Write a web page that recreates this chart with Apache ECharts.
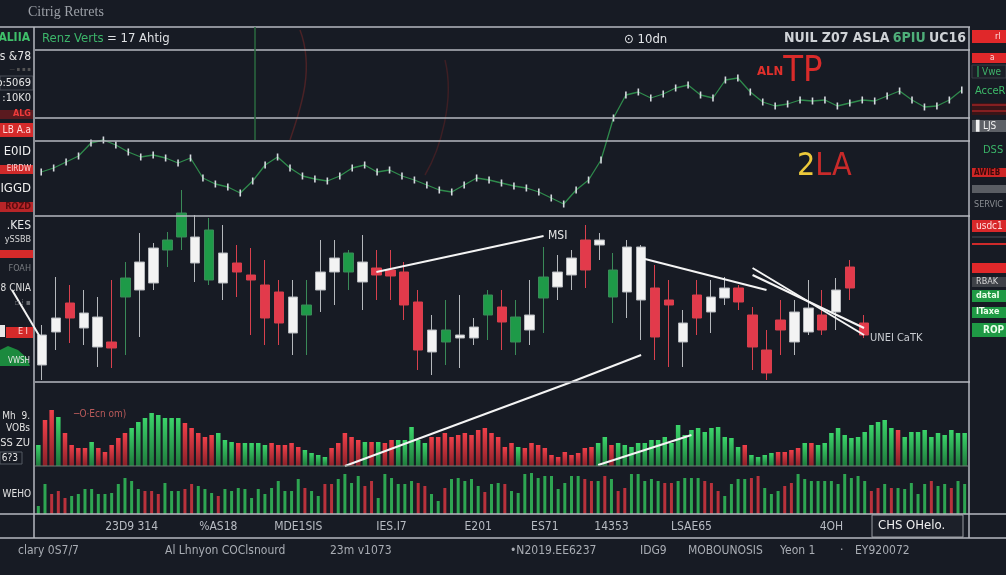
<!DOCTYPE html>
<html><head><meta charset="utf-8">
<script src="https://cdn.jsdelivr.net/npm/echarts@6/dist/echarts.min.js"></script>
<style>html,body{margin:0;padding:0;background:#171b24;}#c{width:1006px;height:575px;}</style>
</head><body><div id="c"></div><script>
// ---------- DATA ----------
const trendLine = [44,48,54,60,73,76,71,64,59,61,58,53,58,38,32,29,23,35,51,59,48,40,37,35,40,48,51,44,46,40,36,31,26,24,31,38,36,33,30,28,24,18,12,26,36,56,98,121,124,118,122,128,131,121,118,136,138,124,114,110,112,116,115,116,110,113,116,115,120,125,116,109,110,116,126];

// [open, close, low, high]
const candleOHLC = [
 [17,47,2,57],[50,64,32,105],[79,64,39,97],[54,69,37,92],[35,65,15,85],[40,34,14,102],[85,104,27,120],[92,120,45,149],[99,134,92,139],[132,142,115,150],
 [145,169,132,192],[119,145,100,167],[102,152,97,164],[99,129,82,157],[119,110,85,137],[107,102,47,134],[97,64,37,122],[90,59,37,102],[49,85,27,102],[67,77,27,102],
 [92,110,70,142],[110,124,77,142],[110,129,92,132],[100,120,72,147],[114,107,82,132],[112,106,82,132],[110,77,62,120],[80,32,12,92],[30,52,7,67],[40,52,17,82],
 [44,47,14,87],[44,55,37,64],[67,87,42,92],[75,60,32,92],[40,65,27,82],[52,67,37,102],[84,105,49,135],[95,110,82,127],[107,124,92,132],[142,112,94,157],
 [137,142,122,149],[85,112,59,129],[90,135,64,142],[82,135,42,137],[94,45,22,117],[82,77,15,102],[40,59,15,72],[87,64,47,102],[70,85,49,102],[84,94,77,105],
 [94,80,72,97],[67,35,12,75],[32,9,2,52],[62,52,27,82],[40,70,27,82],[50,74,47,102],[67,52,47,92],[70,92,52,104],[115,94,82,122],[59,47,44,67]
];
const greenCandleIdx = [6,9,10,12,19,22,29,32,34,36,41];

const volumeA = [21,46,56,49,33,21,18,18,24,18,14,21,28,33,38,44,48,53,51,48,48,48,43,38,33,29,31,33,26,24,23,23,23,23,21,23,21,21,23,19,16,13,11,9,18,23,33,29,26,24,24,24,23,26,26,26,39,26,23,29,29,33,29,31,33,31,36,38,33,
 29,19,23,19,18,23,21,18,11,9,14,11,13,18,19,23,29,21,23,21,19,23,23,26,26,29,23,41,31,36,38,34,38,39,29,28,19,21,11,9,11,13,14,14,16,18,23,23,21,23,33,38,31,28,29,34,41,44,46,38,36,29,34,34,36,29,33,31,36,33,33];
const volumeADir = "grrgrrrrgr"+"rrrrgggggg"+"ggrrrrrggg"+"rggggrrrrr"+"ggggrrrrrg"+"rgrrgggggr"+"rrrrrrrrr"+"rrrgrrrrrr"+"rrrrrggrgg"+"gggggggggg"+"gggggggrgg"+"ggrrrrgrgg"+"gggggggggg"+"rggggggggg"+"g";

const volumeB = [8,30,20,23,16,18,20,25,25,20,20,21,30,36,33,25,23,23,20,31,23,23,25,30,28,25,21,18,25,23,26,25,16,25,20,26,33,23,23,35,26,23,18,30,30,35,40,31,38,28,33,16,40,36,30,30,33,31,28,20,13,26,35,36,33,35,28,22,30,
 31,30,23,21,40,41,36,38,38,25,31,38,38,35,33,33,38,35,23,26,40,40,33,35,33,31,31,33,36,36,36,33,31,23,18,30,35,35,36,38,26,20,23,28,31,40,35,33,33,33,33,30,40,36,38,33,23,26,30,26,26,25,31,20,30,33,28,30,26,33,30];
const volumeBDir = "ggrrrggggg"+"ggggggrrrg"+"ggrrgggrgg"+"gggggggggg"+"rggrrggggr"+"rggggggrrg"+"grgggg"+"grg"+"grgggggggg"+"gggrrgrgrr"+"gggggrrggg"+"grrrggggrr"+"gggrrggggg"+"ggggggrrgr"+"gggggr"+"ggrgg";

const tickIdx  = [14,27,39,53,66,76,86,98,119];
const tickText = ['23D9 314','%AS18','MDE1SIS','IES.I7','E201','ES71','14353','LSAE65','4OH'];

const footerText = ['clary 0S7/7','Al Lhnyon COClsnourd','23m v1073','•N2019.EE6237','IDG9','MOBOUNOSIS','Yeon 1','·','EY920072'];

// ---------- BUILD ----------
const FONT = '"DejaVu Sans Condensed","DejaVu Sans",sans-serif';
const idx = n => Array.from({length:n},(_,i)=>i);

const mainCandles = candleOHLC.map((d,i)=>greenCandleIdx.includes(i)?null:[i].concat(d)).filter(Boolean);
const greenCandles = candleOHLC.map((d,i)=>greenCandleIdx.includes(i)?[i].concat(d):null).filter(Boolean);

function grad(c1,c2){return {type:'linear',x:0,y:0,x2:0,y2:1,colorStops:[{offset:0,color:c1},{offset:1,color:c2}]};}
const volAData = volumeA.map((v,i)=>({value:v,itemStyle:{color: volumeADir[i]==='g'?grad('#3bd46a','#1f7a3c'):grad('#f0404a','#8a2028')}}));
const volBData = volumeB.map((v,i)=>({value:v,itemStyle:{color: volumeBDir[i]==='g'?'#2ea552':'#b8323c'}}));

const G = [];
function hline(x1,x2,y,c,w){G.push({type:'line',z:50,silent:true,shape:{x1:x1,y1:y,x2:x2,y2:y},style:{stroke:c||'#b6b9bf',lineWidth:w||1.5}});}
function vline(x,y1,y2,c,w){G.push({type:'line',z:50,silent:true,shape:{x1:x,y1:y1,x2:x,y2:y2},style:{stroke:c||'#b6b9bf',lineWidth:w||1.5}});}
function rect(x,y,w,h,fill,stroke){G.push({type:'rect',z:40,silent:true,shape:{x:x,y:y,width:w,height:h},style:{fill:fill||'none',stroke:stroke||null,lineWidth:1}});}
function txt(x,y,t,c,size,align,weight,fam){G.push({type:'text',z:60,silent:true,x:x,y:y,style:{text:t,fill:c,font:(weight||'normal')+' '+size+'px '+(fam||FONT),textAlign:align||'left',textVerticalAlign:'middle'}});}

// frame
hline(0,970,27); hline(35,970,50); hline(35,970,118); hline(35,970,141); hline(35,970,216); hline(35,970,382);
hline(35,968,466,'#6f7f76',1.2); hline(0,1006,514); hline(0,1006,538);
vline(34,27,538); vline(969,27,538);
vline(255,27,140,'#2b6a3f',1.5);
// faint background curves
G.push({type:'bezierCurve',z:5,silent:true,shape:{x1:300,y1:30,x2:290,y2:140,cpx1:315,cpy1:70,cpx2:300,cpy2:110},style:{stroke:'#4a2226',lineWidth:1.5,fill:null}});
G.push({type:'bezierCurve',z:5,silent:true,shape:{x1:445,y1:60,x2:425,y2:175,cpx1:455,cpy1:100,cpx2:440,cpy2:150},style:{stroke:'#3d1f24',lineWidth:1.5,fill:null}});
// left annotation line
G.push({type:'line',z:55,silent:true,shape:{x1:12,y1:290,x2:43,y2:342},style:{stroke:'#f2f2f2',lineWidth:2}});

// title & header
txt(28,12,'Citrig Retrets','#9da1a8',14,'left','normal','"Liberation Serif",serif');
G.push({type:'text',z:60,x:42,y:39,style:{text:'{g|Renz Verts} {w|= 17 Ahtig}',rich:{g:{fill:'#3cb56a',font:'13px '+FONT},w:{fill:'#dfe1e4',font:'13px '+FONT}},textVerticalAlign:'middle'}});
txt(624,40,'⊙ 10dn','#e4e6e9',13);
G.push({type:'text',z:60,x:966,y:38,style:{text:'{w|NUIL Z07 ASLA} {g|6PIU} {w|UC16}',rich:{w:{fill:'#cfd2d6',font:'bold 14px '+FONT},g:{fill:'#4fae7a',font:'bold 14px '+FONT}},textAlign:'right',textVerticalAlign:'middle'}});
G.push({type:'text',z:60,x:757,y:72,style:{text:'{s|ALN}{b|TP}',rich:{s:{fill:'#e0302c',font:'bold 13px '+FONT},b:{fill:'#d92b2a',font:'36px '+FONT}},textVerticalAlign:'middle'}});
G.push({type:'text',z:60,x:797,y:167,style:{text:'{y|2}{r|LA}',rich:{y:{fill:'#ecc93b',font:'32px '+FONT},r:{fill:'#c82a2a',font:'32px '+FONT}},textVerticalAlign:'middle'}});
txt(548,236,'MSI','#e8e8e8',12);
txt(870,338,'UNEI CaTK','#c9ccd1',11);
txt(74,414,'─O·Ecn om)','#b85a5a',10);

// left side panel
txt(30,38,'ALIIA','#3fbf6a',12,'right','bold');
txt(31,57,'s &78','#e5e5e5',12,'right');
txt(31,69,'— ▪ ▪ ▪','#555',6,'right');
rect(0,76,33,14,'#1b1f28','#4a4e56'); txt(31,83,'o:5069','#e6e6e6',11,'right');
txt(31,98,':10K0','#e6e6e6',11,'right');
rect(0,110,33,9,'#5a1a1f'); txt(31,114,'ALG','#ef3b3b',9,'right','bold');
rect(0,123,33,14,'#d52a2a'); txt(31,130,'LB A.a','#ffdcdc',10,'right');
txt(31,152,'E0ID','#f0f0f0',13,'right');
rect(0,165,33,9,'#cf2a2a'); txt(31,169,'EIRDW','#ffd0d0',8,'right');
txt(31,189,'IGGD','#f0f0f0',13,'right');
rect(0,202,33,10,'#b72528'); txt(31,207,'ROZD','#5a0d10',9,'right','bold');
txt(31,226,'.KES','#e8e8e8',12,'right');
txt(31,240,'ySSBB','#d8d8d8',9,'right');
rect(0,250,33,8,'#d62a2a');
txt(31,269,'FOAH','#7a7d82',9,'right');
txt(31,288,'8 CNIA','#e0e0e0',10,'right');
txt(31,303,'▫ ⁞ ▪','#6a6d72',8,'right');
rect(0,325,5,12,'#e8e8e8'); rect(6,327,27,11,'#d52a2a'); txt(28,332,'E I','#ffdada',9,'right');
G.push({type:'polygon',z:40,silent:true,shape:{points:[[0,366],[0,350],[8,346],[18,350],[27,358],[30,366]]},style:{fill:'#1c8a3e'}});
txt(30,361,'VWSH','#e8e8e8',8,'right');
txt(30,416,'Mh  9.','#e2e2e2',10,'right');
txt(30,428,'VOBs','#e2e2e2',10,'right');
txt(30,443,'SS ZU','#e2e2e2',11,'right');
rect(0,452,22,12,null,'#555a62'); txt(18,458,'6?3','#e2e2e2',10,'right');
txt(31,494,'WEHO','#e2e2e2',10,'right');

// right side panel
rect(972,30,34,13,'#e0282a'); txt(995,37,'rl','#ffe0e0',9,'left');
rect(972,53,34,10,'#e0282a'); txt(990,58,'a','#ffe0e0',8,'left');
rect(972,65,34,13,'#1b1f27','#3a3e46'); vline(978,66,77,'#33a55e',1.2); txt(982,72,'Vwe','#3fb06a',10,'left');
txt(975,91,'AcceR','#3dbb6a',11,'left');
rect(972,103,34,12,'#3a1518'); hline(972,1006,105,'#d02a2a',1.2); hline(972,1006,111,'#d02a2a',1.2);
rect(972,120,34,12,'#5d6066'); txt(976,126,'▌LJS','#f2f2f2',10,'left');
txt(983,150,'DSS','#3ab468',11,'left');
rect(972,168,34,9,'#cf2626'); txt(974,173,'AWIEB','#3a0a0a',8,'left','bold');
rect(972,185,34,8,'#5a5d63');
txt(974,205,'SERVIC','#8a8d92',9,'left');
rect(972,220,34,12,'#d8282a'); txt(976,226,'usdc1','#ffe0e0',10,'left');
hline(972,1006,237,'#3a3e46',1.5); hline(972,1006,244,'#cf2a2a',2);
rect(972,263,34,10,'#e0282a');
rect(972,277,34,10,'#3e4147'); txt(976,282,'RBAK','#d8d8d8',9,'left');
rect(972,290,34,12,'#1f9a45'); txt(976,296,'dataI','#eaffea',9,'left','bold');
rect(972,307,34,11,'#1f9a45'); txt(976,312,'ITaxe','#eaffea',9,'left','bold');
rect(972,323,34,14,'#1f9a45'); txt(983,330,'ROP','#eaffea',10,'left','bold');

// bottom box & footer
rect(872,515,91,22,'#1c2029','#9a9da3'); txt(878,526,'CHS OHelo.','#f0f0f0',13,'left');
const footX = [18,165,330,510,640,688,780,840,855];
footerText.forEach((t,i)=>txt(footX[i],551,t,'#a9adb4',12,'left'));

const ML = {symbol:['none','none'],silent:true,label:{show:false},lineStyle:{color:'#f4f4f4',width:2,type:'solid'},emphasis:{disabled:true}};

const option = {
  backgroundColor:'#171b24',
  animation:false,
  grid:[
    {left:35,top:50,width:933,height:166},
    {left:35,top:216,width:836,height:166},
    {left:35,top:382,width:933,height:84},
    {left:35,top:466,width:933,height:48}
  ],
  xAxis:[
    {type:'category',gridIndex:0,data:idx(trendLine.length),show:false},
    {type:'category',gridIndex:1,data:idx(candleOHLC.length),show:false},
    {type:'category',gridIndex:2,data:idx(volumeA.length),show:false},
    {type:'category',gridIndex:3,data:idx(volumeB.length),axisLine:{show:false},axisTick:{show:false},
     axisLabel:{interval:0,margin:7,color:'#b8bcc3',fontSize:12,fontFamily:FONT,
       formatter:(v,i)=>{const k=tickIdx.indexOf(i);return k<0?'':tickText[k];}}}
  ],
  yAxis:[
    {type:'value',gridIndex:0,min:0,max:166,show:false},
    {type:'value',gridIndex:1,min:0,max:166,show:false},
    {type:'value',gridIndex:2,min:0,max:84,show:false},
    {type:'value',gridIndex:3,min:0,max:48,show:false}
  ],
  series:[
    {type:'line',xAxisIndex:0,yAxisIndex:0,data:trendLine,lineStyle:{color:'#2f8a4c',width:1.3},
     symbol:'rect',symbolSize:[1.6,7],showSymbol:true,itemStyle:{color:'#d6dbe0'},
     markLine:Object.assign({},ML,{data:[[{coord:[59.8,23]},{coord:[74.5,54]}]]})},
    {type:'candlestick',xAxisIndex:1,yAxisIndex:1,data:mainCandles,encode:{x:0,y:[1,2,3,4]},barWidth:10,clip:false,
     itemStyle:{color:'#f3f3f3',color0:'#e23a4b',borderColor:'#b5b8bc',borderColor0:'#d8404d',borderWidth:1},
     markLine:Object.assign({},ML,{data:[
       [{coord:[23.5,110]},{coord:[36.1,146]}],
       [{coord:[43.3,124]},{coord:[51.5,92]}],
       [{coord:[51.3,114]},{coord:[58.9,47]}],
       [{coord:[50.5,107]},{coord:[58.7,54]}],
       [{coord:[38.1,0]},{coord:[43.4,27]}]
     ]})},
    {type:'candlestick',xAxisIndex:1,yAxisIndex:1,data:greenCandles,encode:{x:0,y:[1,2,3,4]},barWidth:10,clip:false,
     itemStyle:{color:'#1e9a48',color0:'#1e9a48',borderColor:'#3a8a58',borderColor0:'#3a8a58',borderWidth:1}},
    {type:'bar',xAxisIndex:2,yAxisIndex:2,data:volAData,barWidth:4.5,
     markLine:Object.assign({},ML,{data:[
       [{coord:[45.7,0]},{coord:[80.3,84]}],
       [{coord:[84,1]},{coord:[97.9,31]}]
     ]})},
    {type:'bar',xAxisIndex:3,yAxisIndex:3,data:volBData,barWidth:3}
  ],
  graphic:G
};
const chart = echarts.init(document.getElementById('c'),null,{renderer:'canvas'});
chart.setOption(option);
</script></body></html>
